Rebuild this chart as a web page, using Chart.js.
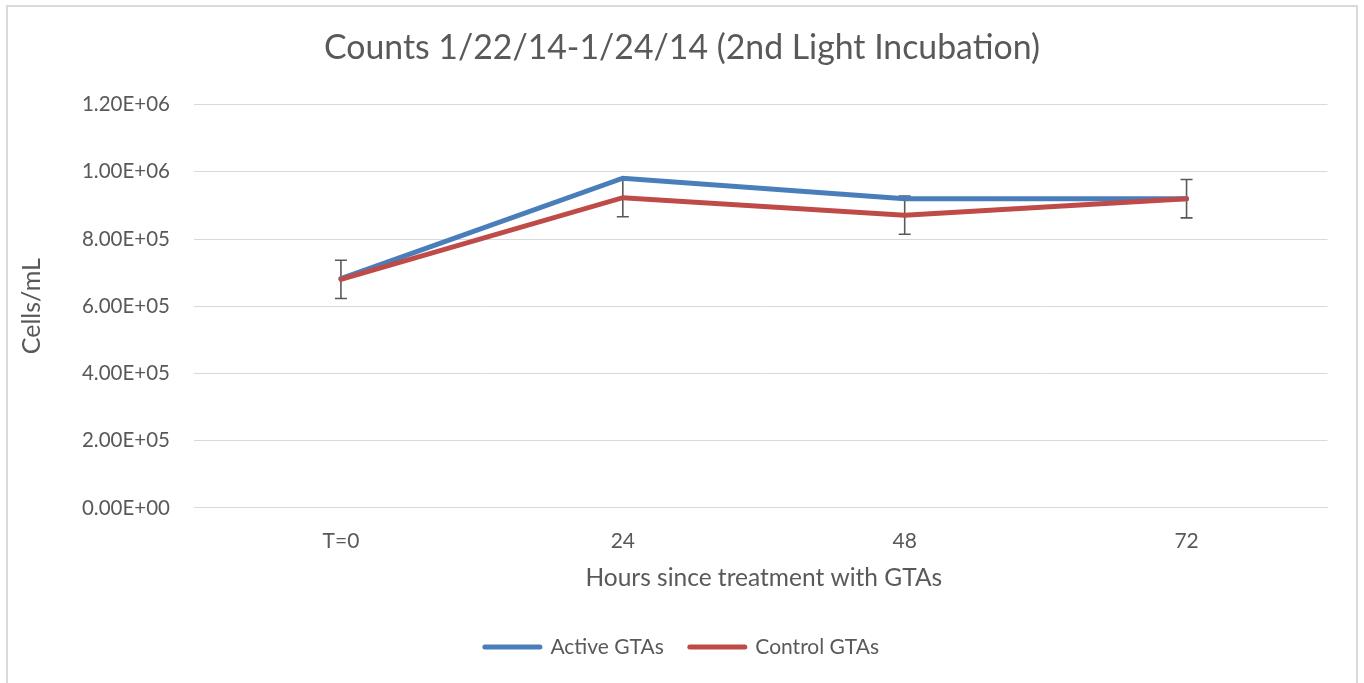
<!DOCTYPE html>
<html>
<head>
<meta charset="utf-8">
<script src="https://cdn.jsdelivr.net/npm/chart.js@4/dist/chart.umd.min.js"></script>
<style>
  html, body { margin: 0; padding: 0; background: #fff; overflow: hidden; }
  #wrap { position: relative; width: 1364px; height: 683px; }
  #frame { position: absolute; left: 6px; top: 5px; width: 1348px; height: 700px; border: 2px solid #d9d9d9; border-bottom: none; }
  canvas { position: absolute; left: 0; top: 0; }
</style>
</head>
<body>
<div id="wrap">
  <div id="frame"></div>
  <canvas id="chart" width="1364" height="683"></canvas>
</div>
<script>
// valores
const categories = ['T=0', '24', '48', '72'];
const activeGTAs = [682000, 981000, 920000, 920000];
const controlGTAs = [680000, 923000, 871000, 920000];
const controlErr = [57000, 57000, 57000, 57000];
const yTicks = [0, 200000, 400000, 600000, 800000, 1000000, 1200000];

const FONT = 'Lato, "Open Sans", sans-serif';
const GREY = '#595959';

function sci(v) {
  if (v === 0) return '0.00E+00';
  const e = Math.floor(Math.log10(v));
  const m = v / Math.pow(10, e);
  return m.toFixed(2) + 'E+' + String(e).padStart(2, '0');
}

// barras de error (solo serie de control), debajo de las líneas
const errorBars = {
  id: 'errorBars',
  beforeDatasetsDraw(chart) {
    const { ctx, scales: { x, y } } = chart;
    ctx.save();
    ctx.strokeStyle = GREY;
    ctx.lineWidth = 1.6;
    controlGTAs.forEach((v, i) => {
      const px = x.getPixelForValue(i);
      const top = y.getPixelForValue(v + controlErr[i]);
      const bot = y.getPixelForValue(v - controlErr[i]);
      ctx.beginPath();
      ctx.moveTo(px, top); ctx.lineTo(px, bot);
      ctx.moveTo(px - 6, top); ctx.lineTo(px + 6, top);
      ctx.moveTo(px - 6, bot); ctx.lineTo(px + 6, bot);
      ctx.stroke();
    });
    ctx.restore();
  }
};

new Chart(document.getElementById('chart'), {
  type: 'line',
  data: {
    labels: categories,
    datasets: [{
      label: 'Active GTAs',
      data: activeGTAs,
      borderColor: '#4A7EBB',
      backgroundColor: '#4A7EBB',
      borderWidth: 5,
      pointRadius: 0,
      tension: 0,
      borderCapStyle: 'round',
      order: 1
    }, {
      label: 'Control GTAs',
      data: controlGTAs,
      borderColor: '#BE4B48',
      backgroundColor: '#BE4B48',
      borderWidth: 5,
      pointRadius: 0,
      tension: 0,
      borderCapStyle: 'round',
      order: 0
    }]
  },
  options: {
    responsive: false,
    animation: false,
    layout: { padding: { left: 22.5, right: 22.5, top: 0, bottom: 15.5 } },
    plugins: {
      tooltip: { enabled: false },
      title: {
        display: true,
        text: 'Counts 1/22/14-1/24/14 (2nd Light Incubation)',
        color: GREY,
        font: { family: FONT, size: 33.8, weight: 'normal' },
        padding: { top: 28, bottom: 36 }
      },
      legend: {
        position: 'bottom',
        labels: {
          color: GREY,
          font: { family: FONT, size: 21 },
          usePointStyle: true,
          pointStyle: 'line',
          pointStyleWidth: 55,
          boxHeight: 5,
          padding: 26,
          generateLabels(chart) {
            return chart.data.datasets.map((ds, i) => ({
              text: ds.label,
              fillStyle: ds.borderColor,
              strokeStyle: ds.borderColor,
              lineWidth: 5,
              lineCap: 'round',
              pointStyle: 'line',
              fontColor: GREY,
              datasetIndex: i
            }));
          }
        }
      }
    },
    scales: {
      x: {
        offset: true,
        grid: { display: false },
        border: { color: '#d9d9d9', width: 1 },
        ticks: { color: GREY, font: { family: FONT, size: 21 }, padding: 13 },
        title: {
          display: true,
          text: 'Hours since treatment with GTAs',
          color: GREY,
          font: { family: FONT, size: 24.5 },
          padding: { top: -4, bottom: 18 }
        }
      },
      y: {
        min: 0,
        max: 1200000,
        afterBuildTicks(scale) { scale.ticks = yTicks.map(v => ({ value: v })); },
        grid: { color: '#d9d9d9', lineWidth: 1, tickLength: 6, drawTicks: true },
        border: { display: false },
        ticks: { color: GREY, font: { family: FONT, size: 20.5 }, padding: 24, callback: v => sci(v) },
        title: {
          display: true,
          text: 'Cells/mL',
          color: GREY,
          font: { family: FONT, size: 25 },
          padding: { top: -5.5, bottom: 0 }
        },
        afterFit(scale) { scale.width = 177.5; }
      },
      // eje vacío a la derecha, solo para dejar el título centrado en el lienzo
      yRight: {
        position: 'right',
        min: 0,
        max: 1,
        grid: { display: false },
        border: { display: false },
        ticks: { display: false },
        afterFit(scale) { scale.width = 14; }
      }
    }
  },
  plugins: [errorBars]
});
</script>
</body>
</html>
